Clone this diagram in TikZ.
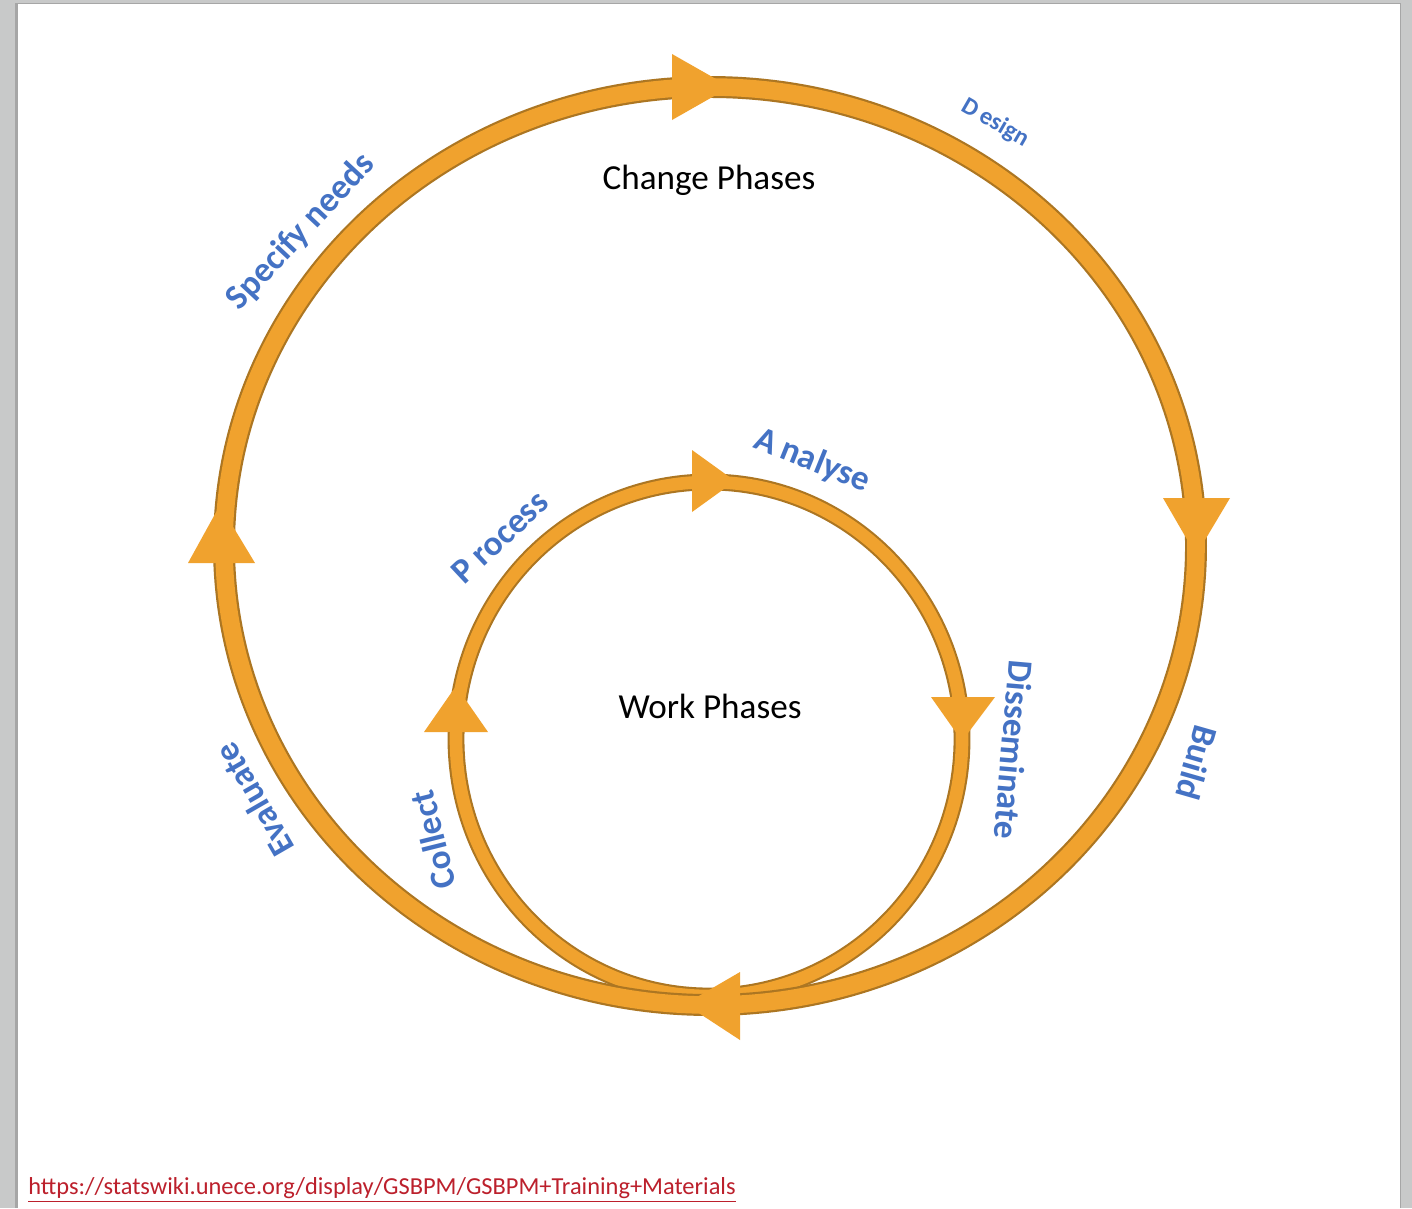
\documentclass[tikz,border=0pt]{standalone}
\usepackage{fontspec}
\setmainfont{Carlito}
\definecolor{ringorange}{RGB}{240,162,46}
\definecolor{ringedge}{RGB}{172,118,34}
\definecolor{phaseblue}{RGB}{68,114,196}
\definecolor{linkred}{RGB}{188,32,44}
\definecolor{pagegray}{RGB}{200,201,201}
\begin{document}
\begin{tikzpicture}[x=0.02cm, y=-0.02cm,
    phase/.style={text=phaseblue, font=\fontsize{20}{24}\selectfont\bfseries, inner sep=0pt},
    title/.style={font=\fontsize{20}{24}\selectfont, inner sep=0pt},
    outerband/.style={line width=12.5pt, draw=ringedge},
    innerband/.style={line width=9.6pt, draw=ringedge},
    head/.style={fill=ringorange}
  ]
  % page
  \fill[pagegray] (0,0) rectangle (1412,1208);
  \fill[black!35] (15,3) rectangle (1401,1208);
  \fill[white] (18,4) rectangle (1400,1208);

  % work cycle (inner)
  \draw[innerband] (709,739) ellipse [x radius=253, y radius=257];
  \draw[line width=7.2pt, ringorange] (709,739) ellipse [x radius=253, y radius=257];

  % change cycle (outer)
  \draw[outerband] (710,546) ellipse [x radius=486, y radius=459];
  \draw[line width=10pt, ringorange] (710,546) ellipse [x radius=486, y radius=459];

  % arrow heads, outer
  \fill[head] (672,54) -- (730,87) -- (672,120) -- cycle;
  \fill[head] (1163,498) -- (1196,555) -- (1230,498) -- cycle;
  \fill[head] (740,972) -- (685,1004) -- (740,1040) -- cycle;
  \fill[head] (188,563) -- (220,505) -- (255,563) -- cycle;
  % arrow heads, inner
  \fill[head] (692,450) -- (735,481) -- (692,512) -- cycle;
  \fill[head] (931,697) -- (962,741) -- (995,697) -- cycle;
  \fill[head] (424,732) -- (456,686) -- (488,732) -- cycle;

  % titles
  \node[title] (change) at (709,180) {Change Phases};
  \node[title] (work) at (710,706) {Work Phases};

  % phase labels
  \node[phase, rotate=47] (specify) at (301,232) {Specify needs};
  \node[phase, rotate=-30, font=\fontsize{14}{16}\selectfont\bfseries] (design) at (995,123) {D\hspace{0.2em}esign};
  \node[phase, rotate=-106] (build) at (1197,763) {Build};
  \node[phase, rotate=120] (evaluate) at (254,800) {Evaluate};
  \node[phase, rotate=-22] (analyse) at (812,461) {A\hspace{0.2em}nalyse};
  \node[phase, rotate=-95] (disseminate) at (1014,750) {Disseminate};
  \node[phase, rotate=104] (collect) at (433,840) {Collect};
  \node[phase, rotate=43] (process) at (500,537) {P\hspace{0.2em}rocess};

  % source
  \node[anchor=west, inner sep=0pt, text=linkred, font=\fontsize{13.9}{16}\selectfont] (link) at (28,1190)
    {\underline{https://statswiki.unece.org/display/GSBPM/GSBPM+Training+Materials}};
\end{tikzpicture}
\end{document}
